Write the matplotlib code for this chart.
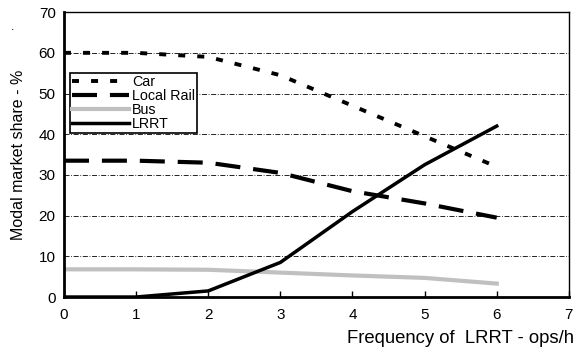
import matplotlib
matplotlib.use('Agg')
import matplotlib.pyplot as plt

plt.rcParams['font.family'] = ['Liberation Sans', 'DejaVu Sans']

freq = [0, 1, 2, 3, 4, 5, 6]
car = [60, 60, 59, 54.5, 47, 39.5, 32]
local_rail = [33.5, 33.5, 33, 30.5, 26, 23, 19.5]
bus = [6.8, 6.8, 6.7, 6.0, 5.3, 4.7, 3.3]
lrrt = [0, 0, 1.5, 8.5, 21, 32.5, 42]

fig = plt.figure(figsize=(5.79, 3.57), dpi=100)
ax = fig.add_axes([0.1105, 0.168, 0.872, 0.798])

for y in range(10, 70, 10):
  ax.axhline(y, color='black', lw=0.6, ls=(0, (6, 2, 1, 2)), zorder=1)

ax.plot(freq, car, color='black', lw=2.8, ls=(0, (1.8, 3.1)), label='Car', zorder=3)
ax.plot(freq, local_rail, color='black', lw=3, ls=(0, (6, 3.1)), label='Local Rail', zorder=3)
ax.plot(freq, bus, color='#c0c0c0', lw=3, label='Bus', zorder=2)
ax.plot(freq, lrrt, color='black', lw=2.5, label='LRRT', zorder=4)

ax.set_xlim(0, 7)
ax.set_ylim(0, 70)
ax.set_xticks(range(0, 8))
ax.set_yticks(range(0, 80, 10))
ax.tick_params(axis='x', direction='in', length=4, width=1, labelsize=11, pad=8)
ax.tick_params(axis='y', length=0, labelsize=11, pad=6)
ax.spines['left'].set_linewidth(2)
ax.spines['bottom'].set_linewidth(2)
ax.spines['top'].set_linewidth(1)
ax.spines['right'].set_linewidth(1)

ax.set_ylabel('Modal market share - %', fontsize=11.5, labelpad=9)
fig.text(0.991, 0.028, 'Frequency of  LRRT - ops/h', ha='right', va='bottom', fontsize=13.3)
fig.text(0.022, 0.925, '.', ha='center', va='center', fontsize=9)

leg = ax.legend(loc='upper left', bbox_to_anchor=(0.012, 0.786), fontsize=10.3,
                handlelength=4.0, handletextpad=0.2, labelspacing=0.0,
                borderpad=0.15, borderaxespad=0, fancybox=False, framealpha=1,
                edgecolor='black')
leg.get_frame().set_linewidth(1.2)

plt.savefig('out.png', dpi=100)
